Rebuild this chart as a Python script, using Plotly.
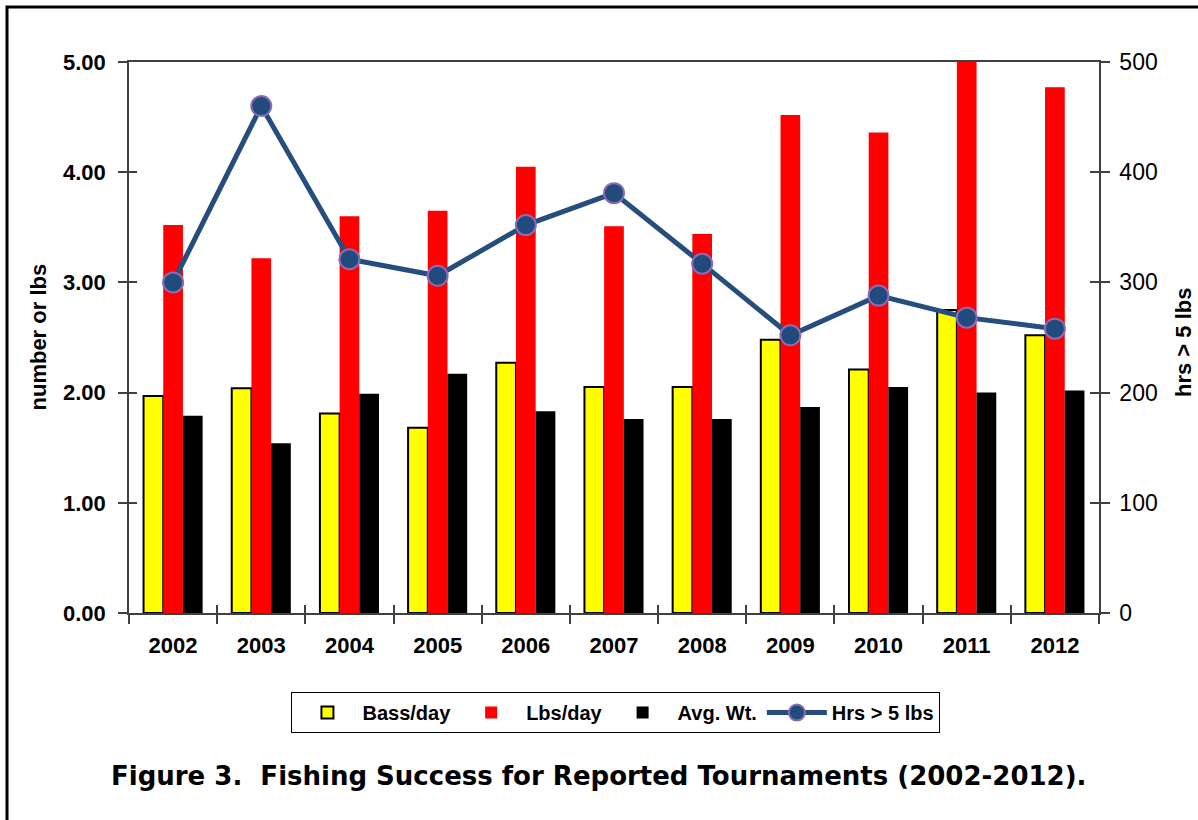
import plotly.graph_objects as go

years = ["2002", "2003", "2004", "2005", "2006", "2007", "2008", "2009", "2010", "2011", "2012"]
bass_per_day = [1.97, 2.04, 1.81, 1.68, 2.27, 2.05, 2.05, 2.48, 2.21, 2.75, 2.52]
lbs_per_day = [3.52, 3.22, 3.60, 3.65, 4.05, 3.51, 3.44, 4.52, 4.36, 5.10, 4.77]
avg_wt = [1.79, 1.54, 1.99, 2.17, 1.83, 1.76, 1.76, 1.87, 2.05, 2.00, 2.02]
hrs_over_5 = [300, 460, 321, 306, 352, 381, 317, 252, 288, 268, 258]

left_ticks = [0, 1, 2, 3, 4, 5]
left_tick_text = ["0.00", "1.00", "2.00", "3.00", "4.00", "5.00"]
right_ticks = [0, 100, 200, 300, 400, 500]

FONT = "Liberation Sans, Arial, sans-serif"
AXC = "#404040"

fig = go.Figure()
fig.add_trace(go.Bar(x=years, y=bass_per_day, name="Bass/day",
                     marker=dict(color="#FFFF00", line=dict(color="black", width=2))))
fig.add_trace(go.Bar(x=years, y=lbs_per_day, name="Lbs/day",
                     marker=dict(color="#FF0000", line=dict(width=0))))
fig.add_trace(go.Bar(x=years, y=avg_wt, name="Avg. Wt.",
                     marker=dict(color="#000000", line=dict(width=0))))
fig.add_trace(go.Scatter(x=years, y=hrs_over_5, name="Hrs > 5 lbs", yaxis="y2",
                         mode="lines+markers",
                         line=dict(color="#254E7E", width=5),
                         marker=dict(size=20, color="#214A7D",
                                     line=dict(color="#8C6BB1", width=2))))
# invisible helper traces to draw inward halves of the crossing tick marks
fig.add_trace(go.Scatter(x=years, y=[None] * len(years), xaxis="x3", yaxis="y3",
                         showlegend=False, hoverinfo="skip"))
fig.add_trace(go.Scatter(x=years, y=[None] * len(years), xaxis="x", yaxis="y4",
                         showlegend=False, hoverinfo="skip"))

fig.update_layout(
    width=1198, height=820,
    margin=dict(l=129, r=99, t=62, b=207),
    paper_bgcolor="white", plot_bgcolor="white",
    barmode="group", bargap=0.33, bargroupgap=0,
    font=dict(family=FONT, color="black"),
    showlegend=True,
    legend=dict(orientation="h", x=0.502, xanchor="center", y=-0.1434, yanchor="top",
                bordercolor="black", borderwidth=1,
                font=dict(size=20, weight="bold", family=FONT), traceorder="normal",
                itemwidth=60, tracegroupgap=0),
    xaxis=dict(type="category", categoryorder="array", categoryarray=years,
               range=[-0.5, 10.5], tickson="boundaries", ticks="outside", ticklen=9,
               tickwidth=1.5, tickcolor=AXC, showline=True, linecolor=AXC, linewidth=1.5,
               mirror=True, showgrid=False, zeroline=False, ticklabelstandoff=12,
               tickfont=dict(size=22, weight="bold", family=FONT)),
    yaxis=dict(range=[0, 5], tickvals=left_ticks, ticktext=left_tick_text,
               ticks="outside", ticklen=9, tickwidth=1.5, tickcolor=AXC,
               showline=True, linecolor=AXC, linewidth=1.5, showgrid=False, zeroline=False,
               ticklabelstandoff=8,
               tickfont=dict(size=22, weight="bold", family=FONT)),
    yaxis2=dict(range=[0, 500], tickvals=right_ticks, overlaying="y", side="right",
                ticks="outside", ticklen=9, tickwidth=1.5, tickcolor=AXC,
                showline=True, linecolor=AXC, linewidth=1.5, showgrid=False, zeroline=False,
                ticklabelstandoff=5,
                tickfont=dict(size=23, family=FONT)),
    xaxis3=dict(type="category", categoryorder="array", categoryarray=years,
                range=[-0.5, 10.5], tickson="boundaries", ticks="inside", ticklen=8,
                tickwidth=1.5, tickcolor=AXC, showticklabels=False, showline=False,
                showgrid=False, zeroline=False, overlaying="x", anchor="y3"),
    yaxis3=dict(range=[0, 5], tickvals=left_ticks, ticks="inside", ticklen=8,
                tickwidth=1.5, tickcolor=AXC, showticklabels=False, showline=False,
                showgrid=False, zeroline=False, overlaying="y", anchor="x3", side="left"),
    yaxis4=dict(range=[0, 500], tickvals=right_ticks, ticks="inside", ticklen=9,
                tickwidth=1.5, tickcolor=AXC, showticklabels=False, showline=False,
                showgrid=False, zeroline=False, overlaying="y", anchor="x", side="right"),
    annotations=[
        dict(text="number or lbs", textangle=-90, xref="paper", yref="paper",
             x=(38 - 129) / 970, y=0.5, xanchor="center", yanchor="middle",
             showarrow=False, font=dict(size=22, weight="bold", family=FONT)),
        dict(text="hrs > 5 lbs", textangle=-90, xref="paper", yref="paper",
             x=(1183 - 129) / 970, y=0.49, xanchor="center", yanchor="middle",
             showarrow=False, font=dict(size=22, weight="bold", family=FONT)),
        dict(text="Figure 3.  Fishing Success for Reported Tournaments (2002-2012).",
             xref="paper", yref="paper", x=(598 - 129) / 970, y=(613 - 776) / 551,
             xanchor="center", yanchor="middle", showarrow=False,
             font=dict(size=26, weight="bold", family="DejaVu Sans, sans-serif")),
    ],
    shapes=[
        dict(type="rect", xref="paper", yref="paper",
             x0=(7 - 129) / 970, x1=(1210 - 129) / 970,
             y0=(613 - 835) / 551, y1=(613 - 7) / 551,
             line=dict(color="black", width=3), fillcolor="rgba(0,0,0,0)", layer="below"),
    ],
)

fig.write_html("out.html", config={"displayModeBar": False},
               post_script="document.body.style.margin='0';document.body.style.overflow='hidden';")
